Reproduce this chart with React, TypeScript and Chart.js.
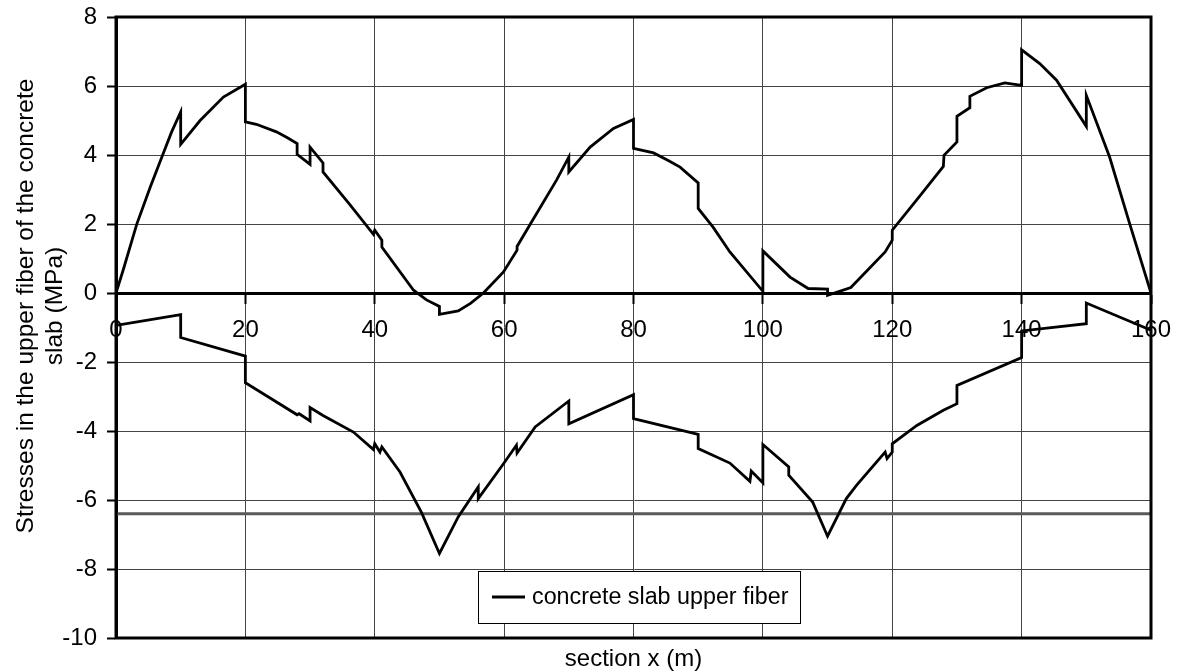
import React, { useEffect, useRef } from 'react';
import { Chart, registerables } from 'chart.js';

Chart.register(...registerables);

// ---- data ----
const upperX = [0, 1.1, 3.2, 5.3, 7.3, 8.6, 10, 10, 13, 16.6, 20, 20, 21.7, 24.8, 26.5, 28, 28, 30, 30, 32, 32, 36, 39.8, 40, 41.1, 41.1, 46, 48, 50, 50, 52.9, 54.8, 56.8, 59.9, 62, 62, 64.4, 68.1, 70, 70, 73.3, 76.9, 80, 80, 83.1, 85.3, 87.2, 90, 90, 92.3, 94.9, 100, 100, 104.2, 107, 110, 110, 113.6, 118.9, 120, 120, 124, 127.9, 128, 130, 130, 132, 132, 134.6, 137.4, 140, 140, 142.8, 145.4, 150, 150, 153.6, 156.7, 160];
const upperY = [0, 0.66, 1.99, 3.07, 4.04, 4.67, 5.25, 4.31, 5.0, 5.68, 6.05, 4.96, 4.89, 4.67, 4.5, 4.33, 4.02, 3.73, 4.23, 3.77, 3.51, 2.6, 1.7, 1.82, 1.53, 1.33, 0.08, -0.2, -0.39, -0.62, -0.52, -0.3, 0, 0.61, 1.24, 1.35, 2.11, 3.27, 3.94, 3.51, 4.23, 4.77, 5.03, 4.19, 4.06, 3.85, 3.65, 3.19, 2.45, 1.91, 1.19, 0.05, 1.22, 0.46, 0.13, 0.11, -0.07, 0.16, 1.19, 1.53, 1.82, 2.75, 3.67, 3.99, 4.38, 5.12, 5.37, 5.7, 5.95, 6.09, 6.02, 7.05, 6.65, 6.17, 4.83, 5.73, 3.94, 2.01, 0];

const lowerX = [0, 10, 10, 20, 20, 28, 28.3, 30, 30, 32, 36.7, 39.8, 40, 40.8, 41.1, 43.9, 47.2, 50, 52.9, 56, 56, 59.9, 61.9, 62, 64.8, 70, 70, 80, 80, 90, 90, 94.9, 98, 98.2, 100, 100, 104, 104, 107.7, 110, 112.9, 114.5, 118.9, 119.2, 120, 120, 123.8, 127.9, 130, 130, 140, 140, 150, 150, 160];
const lowerY = [-0.94, -0.63, -1.29, -1.83, -2.6, -3.53, -3.5, -3.71, -3.32, -3.55, -4.03, -4.54, -4.37, -4.61, -4.46, -5.19, -6.35, -7.55, -6.49, -5.62, -5.96, -4.95, -4.41, -4.64, -3.88, -3.13, -3.79, -2.95, -3.64, -4.1, -4.51, -4.93, -5.46, -5.16, -5.5, -4.39, -5.04, -5.28, -6.06, -7.05, -5.96, -5.57, -4.61, -4.8, -4.61, -4.37, -3.84, -3.4, -3.21, -2.68, -1.87, -1.1, -0.89, -0.29, -1.08];

const limitStress = -6.4;
const limitX = [0, 160];

const seriesName = 'concrete slab upper fiber';
const xTitle = 'section x (m)';
const yTitleLines = ['Stresses in the upper fiber of the concrete', 'slab (MPa)'];

const xMin = 0;
const xMax = 160;
const xStep = 20;
const yMin = -10;
const yMax = 8;
const yStep = 2;

const FONT = '"Liberation Sans", Arial, Helvetica, sans-serif';
const FS = 24;

const decorPlugin = {
  id: 'decor',
  afterDraw(chart: any) {
    const { ctx, chartArea: ca } = chart;
    ctx.save();
    // frame
    ctx.strokeStyle = '#000';
    ctx.lineWidth = 3;
    ctx.strokeRect(ca.left, ca.top, ca.right - ca.left, ca.bottom - ca.top);

    // legend
    const lx = 478, ly = 571, lw = 322, lh = 52;
    ctx.fillStyle = '#fff';
    ctx.fillRect(lx, ly, lw, lh);
    ctx.lineWidth = 1;
    ctx.strokeStyle = '#000';
    ctx.strokeRect(lx + 0.5, ly + 0.5, lw, lh);
    ctx.lineWidth = 3;
    ctx.beginPath();
    ctx.moveTo(492, 597);
    ctx.lineTo(525, 597);
    ctx.stroke();
    ctx.fillStyle = '#000';
    ctx.font = `23.3px ${FONT}`;
    ctx.textBaseline = 'middle';
    ctx.textAlign = 'left';
    ctx.fillText(seriesName, 532, 598);

    // x title
    ctx.font = `${FS}px ${FONT}`;
    ctx.textAlign = 'center';
    ctx.textBaseline = 'alphabetic';
    ctx.fillText(xTitle, (ca.left + ca.right) / 2, 666);

    // y title
    ctx.font = `24.5px ${FONT}`;
    yTitleLines.forEach((t, i) => {
      ctx.save();
      ctx.translate(33 + i * 29, 306);
      ctx.rotate(-Math.PI / 2);
      ctx.fillText(t, 0, 0);
      ctx.restore();
    });
    ctx.restore();
  },
};

export default function App() {
  const ref = useRef<HTMLCanvasElement | null>(null);

  useEffect(() => {
    if (!ref.current) return;
    const lineStyle = {
      borderColor: '#000',
      backgroundColor: '#000',
      borderWidth: 2.8,
      pointRadius: 0,
      showLine: true,
      tension: 0,
      fill: false,
      borderJoinStyle: 'miter' as const,
    };
    const chart = new Chart(ref.current, {
      type: 'scatter',
      data: {
        datasets: [
          { ...lineStyle, label: seriesName, data: upperX.map((x, i) => ({ x, y: upperY[i] })) },
          { ...lineStyle, label: seriesName, data: lowerX.map((x, i) => ({ x, y: lowerY[i] })) },
          {
            ...lineStyle,
            label: 'limit',
            borderColor: '#5a5a5a',
            borderWidth: 3,
            data: limitX.map((x) => ({ x, y: limitStress })),
          },
        ],
      },
      options: {
        responsive: false,
        animation: false,
        layout: { padding: { top: 17, right: 26, bottom: 33, left: 0 } },
        plugins: {
          legend: { display: false },
          tooltip: { enabled: false },
          title: { display: false },
        },
        scales: {
          x: {
            type: 'linear',
            min: xMin,
            max: xMax,
            position: { y: 0 } as any,
            ticks: {
              stepSize: xStep,
              color: '#000',
              font: { size: FS, family: FONT },
              padding: 14,
              maxRotation: 0,
              autoSkip: false,
            },
            grid: {
              color: '#444',
              lineWidth: 1,
              drawTicks: true,
              tickLength: 9,
              tickColor: '#000',
              tickWidth: 2,
            },
            border: { display: true, color: '#000', width: 3 },
            afterFit: (scale: any) => {
              scale.paddingLeft = 0;
              scale.paddingRight = 0;
              scale.paddingTop = 0;
              scale.paddingBottom = 0;
            },
          },
          y: {
            type: 'linear',
            min: yMin,
            max: yMax,
            ticks: {
              stepSize: yStep,
              color: '#000',
              font: { size: FS, family: FONT },
              padding: 10,
            },
            grid: {
              color: (c: any) => (c.tick && c.tick.value === 0 ? 'rgba(0,0,0,0)' : '#444'),
              lineWidth: 1,
              drawTicks: true,
              tickLength: 9,
              tickColor: '#000',
              tickWidth: 2,
            },
            border: { display: true, color: '#000', width: 3 },
            afterFit: (scale: any) => {
              scale.width = 116;
              scale.paddingTop = 0;
              scale.paddingBottom = 0;
            },
          },
        },
      },
      plugins: [decorPlugin],
    });
    return () => chart.destroy();
  }, []);

  return (
    <div style={{ position: 'absolute', left: 0, top: 0, width: 1177, height: 671, background: '#fff' }}>
      <canvas ref={ref} width={1177} height={671} />
    </div>
  );
}
